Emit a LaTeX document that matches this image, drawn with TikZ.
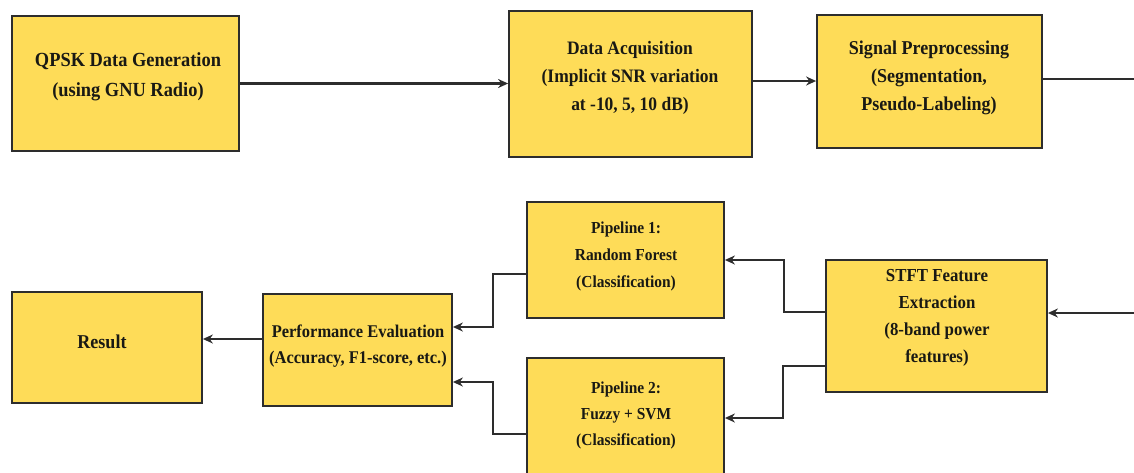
\documentclass[tikz,border=0pt]{standalone}
\usepackage{fontspec}
\setmainfont{Liberation Serif}[FakeStretch=0.92]
\usetikzlibrary{arrows.meta}
\definecolor{boxfill}{RGB}{254,220,88}
\definecolor{edge}{RGB}{45,45,45}
\definecolor{ink}{RGB}{25,25,20}
\tikzset{
  box/.style={draw=edge, line width=1.8pt, fill=boxfill, rectangle, inner sep=0pt},
  lbl/.style={align=center, text=ink, inner sep=0pt},
  conn/.style={draw=edge, line width=2.5pt, -{Stealth[length=10pt,width=9pt]}},
  plain/.style={draw=edge, line width=2.5pt},
}
\newcommand{\fs}[2]{\fontsize{#1}{#2}\selectfont\bfseries}
\begin{document}
\begin{tikzpicture}[x=1pt,y=-1pt]
\useasboundingbox (0,0) rectangle (1134,472);
\clip (0,0) rectangle (1134,472);
% boxes
\node[box, minimum width=227pt, minimum height=135pt] (qpsk) at (125.5,83.5) {};
\node[box, minimum width=243pt, minimum height=146pt] (acq) at (630.5,84) {};
\node[box, minimum width=225pt, minimum height=133pt] (prep) at (929.5,81.5) {};
\node[box, minimum width=221pt, minimum height=132pt] (stft) at (936.5,326) {};
\node[box, minimum width=197pt, minimum height=116pt] (p1) at (625.5,260) {};
\node[box, minimum width=197pt, minimum height=142pt] (p2) at (625.5,429) {};
\node[box, minimum width=189pt, minimum height=112pt] (pe) at (357.5,350) {};
\node[box, minimum width=190pt, minimum height=111pt] (res) at (107,347.5) {};
% texts
\node[lbl, font=\fs{20}{30}] (qpskT) at (128,77) {QPSK Data Generation\\(using GNU Radio)};
\node[lbl, font=\fs{19}{28}] (acqT) at (630,78) {Data Acquisition\\(Implicit SNR variation\\at -10, 5, 10 dB)};
\node[lbl, font=\fs{19.6}{28}] (prepT) at (929,78) {Signal Preprocessing\\(Segmentation,\\Pseudo-Labeling)};
\node[lbl, font=\fs{18.3}{27}] (stftT) at (937,318) {STFT Feature\\Extraction\\(8-band power\\features)};
\node[lbl, font=\fs{16.8}{27}] (p1T) at (626,256) {Pipeline 1:\\Random Forest\\(Classification)};
\node[lbl, font=\fs{16.8}{26}] (p2T) at (626,415) {Pipeline 2:\\Fuzzy + SVM\\(Classification)};
\node[lbl, font=\fs{17.9}{26}] (peT) at (358,346) {Performance Evaluation\\(Accuracy, F1-score, etc.)};
\node[lbl, font=\fs{19.6}{24}] (resT) at (102,342) {Result};
% free ends
\coordinate (outTop) at (1134,79);
\coordinate (inBot) at (1134,313);
% connectors
\draw[conn] (qpsk.east) -- (qpsk.east -| acq.west);
\draw[conn] ([yshift=3pt]acq.east) -- ([yshift=3pt]acq.east -| prep.west);
\draw[plain] (outTop -| prep.east) -- (outTop);
\draw[conn] (inBot) -- (inBot -| stft.east);
\draw[conn] ([yshift=14pt]stft.west) -- ++(-41,0) |- (p1.east);
\draw[conn] ([yshift=-40pt]stft.west) -- ++(-42,0) |- ([yshift=11pt]p2.east);
\draw[conn] ([yshift=-14pt]p1.west) -- ++(-33,0) |- ([yshift=23pt]pe.east);
\draw[conn] ([yshift=-5pt]p2.west) -- ++(-33,0) |- ([yshift=-32pt]pe.east);
\draw[conn] ([yshift=11pt]pe.west) -- ([yshift=11pt]pe.west -| res.east);
\end{tikzpicture}
\end{document}
